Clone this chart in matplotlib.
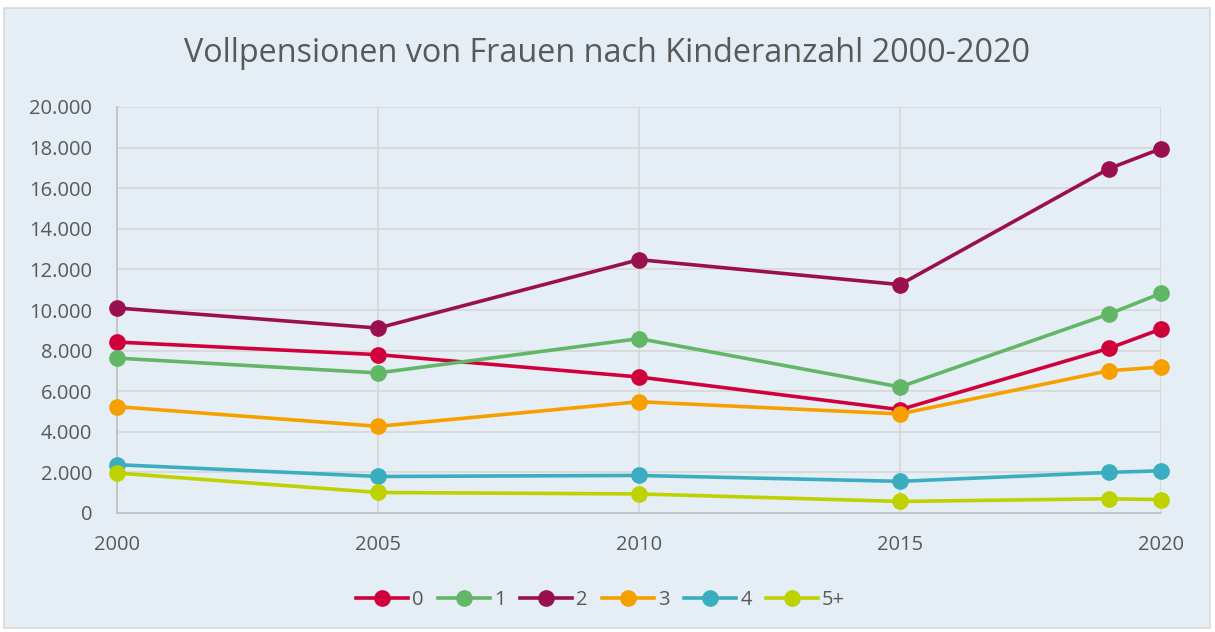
import matplotlib.pyplot as plt
from matplotlib.patches import Rectangle
from matplotlib.ticker import FuncFormatter

plt.rcParams['font.family'] = ['Open Sans', 'DejaVu Sans']

years = [2000, 2005, 2010, 2015, 2019, 2020]
series_names = ['0', '1', '2', '3', '4', '5+']
kids_0 = [8420, 7800, 6700, 5090, 8110, 9060]
kids_1 = [7630, 6900, 8590, 6210, 9800, 10820]
kids_2 = [10100, 9110, 12480, 11250, 16960, 17950]
kids_3 = [5240, 4270, 5480, 4880, 7010, 7190]
kids_4 = [2380, 1800, 1850, 1560, 2000, 2080]
kids_5 = [1970, 1010, 940, 570, 700, 660]
colors = ['#D0003C', '#62B767', '#9A104F', '#F6A000', '#3AAEC0', '#BED200']

txt = '#595959'
bg = '#E5EEF4'

fig = plt.figure(figsize=(12.15, 6.32), dpi=100)
fig.patch.set_facecolor('white')
frame = Rectangle((4 / 1215, 4 / 632), 1206 / 1215, 620 / 632,
                  transform=fig.transFigure, facecolor=bg,
                  edgecolor='#D9D9D9', linewidth=1.2, zorder=-10)
fig.patches.append(frame)

ax = fig.add_axes([117 / 1215, 119 / 632, 1044 / 1215, 406 / 632])
ax.set_facecolor(bg)

all_series = [kids_0, kids_1, kids_2, kids_3, kids_4, kids_5]
for name, vals, c in zip(series_names, all_series, colors):
    ax.plot(years, vals, color=c, lw=2.6, marker='o', markersize=11,
            label=name, clip_on=False, zorder=3)

ax.set_xlim(2000, 2020)
ax.set_ylim(0, 20000)
ax.set_xticks([2000, 2005, 2010, 2015, 2020])
ax.set_yticks(range(0, 20001, 2000))
ax.yaxis.set_major_formatter(FuncFormatter(lambda v, p: f'{int(v):,}'.replace(',', '.')))
ax.grid(True, color='#D6D6D6', lw=1.2)
ax.set_axisbelow(True)
for s in ['top', 'right']:
    ax.spines[s].set_visible(False)
for s in ['left', 'bottom']:
    ax.spines[s].set_color('#BFBFBF')
    ax.spines[s].set_linewidth(1.2)
ax.xaxis.set_tick_params(length=0, colors=txt, labelsize=14.5, pad=16)
ax.yaxis.set_tick_params(length=0, colors=txt, labelsize=14.5, pad=18)

fig.text(0.5, 578 / 632, 'Vollpensionen von Frauen nach Kinderanzahl 2000-2020',
         ha='center', va='center', fontsize=23.3, color=txt)

ax.legend(loc='center', bbox_to_anchor=(0.463, -0.215), ncol=6, frameon=False,
          fontsize=14.5, labelcolor=txt, handlelength=2.6, handletextpad=0.2,
          columnspacing=0.7)

fig.savefig('out.png', dpi=100, facecolor='white')
